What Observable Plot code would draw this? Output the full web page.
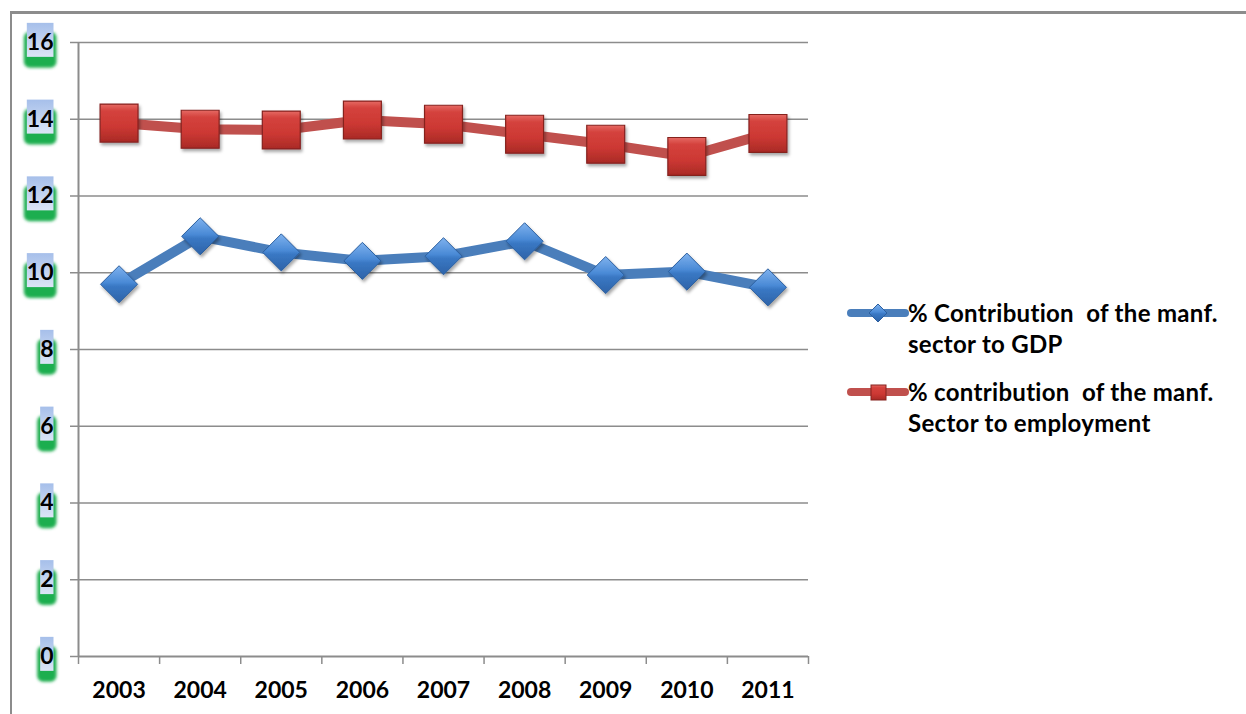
<!DOCTYPE html>
<html><head><meta charset="utf-8">
<script src="https://cdn.jsdelivr.net/npm/d3@7"></script>
<script src="https://cdn.jsdelivr.net/npm/@observablehq/plot@0.6"></script>
<style>
body{margin:0;background:#fff;}
#wrap{position:relative;width:1246px;height:714px;overflow:hidden;font-family:Lato,sans-serif;background:#fff;}
#frame{position:absolute;left:10px;top:11px;width:1300px;height:800px;border-left:2px solid #8c8c8c;border-top:3px solid #8c8c8c;box-sizing:border-box;pointer-events:none;}
#chart{position:absolute;left:0;top:0;}
.leg{position:absolute;left:847px;}
.leg svg{position:absolute;left:0;}
.leg .t{position:absolute;left:61px;font-size:24px;font-weight:bold;line-height:31px;color:#000;white-space:pre;letter-spacing:0.3px;}
</style>
</head><body>
<div id="wrap">
  <div id="chart"></div>
  <div id="frame"></div>
  <div id="legend"></div>
</div>
<script>
const years = [2003, 2004, 2005, 2006, 2007, 2008, 2009, 2010, 2011];
const gdpShare = [9.7, 10.95, 10.53, 10.31, 10.43, 10.82, 9.94, 10.03, 9.62];
const empShare = [13.9, 13.74, 13.72, 13.98, 13.87, 13.61, 13.35, 13.03, 13.63];
const yTicks = [0, 2, 4, 6, 8, 10, 12, 14, 16];
const seriesNames = ["% Contribution  of the manf.\nsector to GDP", "% contribution  of the manf.\nSector to employment"];
const colors = {gdp: "#4a7ebb", emp: "#c0504d"};

const gdpRows = years.map((year, i) => ({year, value: gdpShare[i]}));
const empRows = years.map((year, i) => ({year, value: empShare[i]}));
const bounds = [...years.map(y => y - 0.5), years[years.length - 1] + 0.5];
const gridTicks = yTicks.filter(t => t > 0);

const plot = Plot.plot({
  width: 1246,
  height: 714,
  marginLeft: 78,
  marginRight: 438,
  marginTop: 42,
  marginBottom: 58,
  style: {fontFamily: "Lato, sans-serif", fontSize: "23px", fontWeight: "bold", color: "#000", background: "transparent"},
  x: {type: "linear", domain: [bounds[0], bounds[bounds.length - 1]], label: null},
  y: {domain: [0, 16], label: null},
  marks: [
    Plot.gridY(gridTicks, {stroke: "#8c8c8c", strokeOpacity: 1, strokeWidth: 1.5}),
    Plot.ruleX([bounds[0]], {stroke: "#b9ebc9", strokeWidth: 9}),
    Plot.axisY({ticks: yTicks, tickSize: 8, tickPadding: 17, stroke: "#8c8c8c", strokeWidth: 1.5, fill: "#000", label: null}),
    Plot.ruleX([bounds[0]], {stroke: "#8c8c8c", strokeWidth: 2}),
    Plot.ruleY([0], {stroke: "#8c8c8c", strokeWidth: 2}),
    Plot.axisX({ticks: bounds, tickSize: 8, tickFormat: () => "", stroke: "#8c8c8c", strokeWidth: 1.5, label: null}),
    Plot.axisX({ticks: years, tickSize: 0, tickPadding: 25, tickFormat: "d", fill: "#000", label: null}),
    Plot.line(empRows, {x: "year", y: "value", stroke: colors.emp, strokeWidth: 10}),
    Plot.line(gdpRows, {x: "year", y: "value", stroke: colors.gdp, strokeWidth: 10}),
    Plot.dot(empRows, {x: "year", y: "value", symbol: "square", r: 21.4, fill: "url(#gRed)", stroke: "#85221f", strokeWidth: 1.2}),
    Plot.dot(gdpRows, {x: "year", y: "value", symbol: "diamond2", r: 16.7, fill: "url(#gBlue)", stroke: "#2c5f9f", strokeWidth: 1})
  ]
});
document.getElementById("chart").appendChild(plot);

const svg = d3.select(plot);
const defs = svg.insert("defs", ":first-child");
function grad(id, stops, vertical = true) {
  const g = defs.append("linearGradient").attr("id", id)
    .attr("x1", 0).attr("y1", 0).attr("x2", vertical ? 0 : 1).attr("y2", vertical ? 1 : 0);
  stops.forEach(([o, c]) => g.append("stop").attr("offset", o).attr("stop-color", c));
}
grad("gRed", [[0, "#e66a64"], [0.18, "#d4423d"], [0.6, "#cc3833"], [1, "#a92a26"]]);
grad("gBlue", [[0, "#7fb2ee"], [0.45, "#4a8ad6"], [0.55, "#3a78c4"], [1, "#2d63a8"]]);
grad("gLab", [[0, "#a6bfea"], [1, "#dbe5f6"]]);
const sh = defs.append("filter").attr("id", "sh").attr("x", "-30%").attr("y", "-30%").attr("width", "170%").attr("height", "170%");
sh.append("feDropShadow").attr("dx", 1.5).attr("dy", 2.5).attr("stdDeviation", 1.5).attr("flood-color", "#000").attr("flood-opacity", 0.35);
const bl = defs.append("filter").attr("id", "bl").attr("x", "-30%").attr("y", "-30%").attr("width", "160%").attr("height", "160%");
bl.append("feGaussianBlur").attr("stdDeviation", 1.6);
const bl2 = defs.append("filter").attr("id", "bl2").attr("x", "-100%").attr("y", "-10%").attr("width", "300%").attr("height", "120%");
bl2.append("feGaussianBlur").attr("stdDeviation", 2);

svg.selectAll("g[aria-label='dot'] path").attr("filter", "url(#sh)");
svg.selectAll("g[aria-label='rule']").filter((d, i) => i === 0).attr("filter", "url(#bl2)");

// label badges behind y tick labels
svg.selectAll("g[aria-label='y-axis tick label'] text").each(function () {
  const bb = this.getBBox();
  const cy = bb.y + bb.height / 2;
  const tr = this.getAttribute("transform");
  const parent = this.parentNode;
  const green = document.createElementNS("http://www.w3.org/2000/svg", "rect");
  green.setAttribute("x", bb.x - 3); green.setAttribute("y", cy - 9);
  green.setAttribute("width", bb.width + 6); green.setAttribute("height", 36);
  green.setAttribute("rx", 6); green.setAttribute("fill", "#1fae4f");
  green.setAttribute("filter", "url(#bl)");
  if (tr) green.setAttribute("transform", tr);
  const blue = document.createElementNS("http://www.w3.org/2000/svg", "rect");
  blue.setAttribute("x", bb.x); blue.setAttribute("y", cy - 18);
  blue.setAttribute("width", bb.width); blue.setAttribute("height", 34);
  blue.setAttribute("fill", "url(#gLab)");
  if (tr) blue.setAttribute("transform", tr);
  parent.insertBefore(green, this);
  parent.insertBefore(blue, this);
});

// legend
const legend = d3.select("#legend");
const items = [
  {name: seriesNames[0], color: colors.gdp, top: 297, symbol: "diamond"},
  {name: seriesNames[1], color: colors.emp, top: 376, symbol: "square"}
];
items.forEach(it => {
  const div = legend.append("div").attr("class", "leg").style("top", it.top + "px");
  const s = div.append("svg").attr("width", 62).attr("height", 32).style("top", "0px");
  s.append("line").attr("x1", 4).attr("x2", 58).attr("y1", 16).attr("y2", 16)
    .attr("stroke", it.color).attr("stroke-width", 8).attr("stroke-linecap", "round");
  if (it.symbol === "diamond") {
    s.append("path").attr("d", "M31,7 L40,16 L31,25 L22,16 Z").attr("fill", "url(#gBlue)").attr("stroke", "#2c5f9f");
  } else {
    s.append("rect").attr("x", 24).attr("y", 9).attr("width", 15).attr("height", 15).attr("fill", "url(#gRed)").attr("stroke", "#85221f");
  }
  div.append("div").attr("class", "t").style("top", "0px").text(it.name);
});
d3.selectAll("#legend svg").each(function () {
  this.insertBefore(defs.node().cloneNode(true), this.firstChild);
});
</script>
</body></html>
